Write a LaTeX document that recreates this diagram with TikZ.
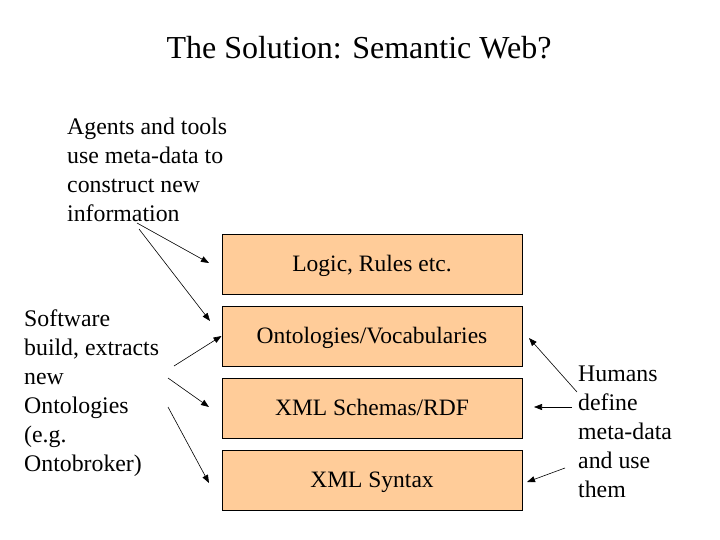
\documentclass[tikz,border=0pt]{standalone}
\usepackage{fontspec}
\setmainfont{Liberation Serif}
\usetikzlibrary{arrows.meta}
\definecolor{boxfill}{HTML}{FFCC99}
\tikzset{
  layer/.style={draw=black, line width=1pt, fill=boxfill, minimum width=300pt, minimum height=60pt, inner sep=0pt, text depth=1pt, font=\fontsize{23.5}{28}\selectfont},
  note/.style={anchor=base west, inner sep=0pt, align=left, font=\fontsize{23.8}{29}\selectfont},
  arr/.style={-{Triangle[length=8pt,width=6pt]}, line width=0.6pt}
}
\begin{document}
\begin{tikzpicture}[x=1pt,y=-1pt]
\useasboundingbox (0,0) rectangle (720,540);
\node[anchor=base, inner sep=0pt, font=\fontsize{32}{38}\selectfont] (title) at (359,59) {The Solution: Semantic Web?};
\node[layer] (logic) at (372,264) {Logic, Rules etc.};
\node[layer] (onto) at (372,336) {Ontologies/Vocabularies};
\node[layer] (xmls) at (372,408) {XML Schemas/RDF};
\node[layer] (syn) at (372,480) {XML Syntax};
\node[note] (agents) at (67,222) {Agents and tools\\use meta-data to\\construct new\\information};
\node[note] (soft) at (24,471) {Software\\build, extracts\\new\\Ontologies\\(e.g.\\Ontobroker)};
\node[note] (hum) at (578,497) {Humans\\define\\meta-data\\and use\\them};
\coordinate (a1) at (137,223);
\coordinate (a2) at (139,229);
\coordinate (s1) at (174,366);
\coordinate (s2) at (168,378);
\coordinate (s3) at (168,407);
\coordinate (h1) at (577,392);
\coordinate (h2) at (572,407);
\coordinate (h3) at (565,468);
\draw[arr] (a1) -- (209,263);
\draw[arr] (a2) -- (210,321);
\draw[arr] (s1) -- (onto.west);
\draw[arr] (s2) -- (209,407);
\draw[arr] (s3) -- (209,483);
\draw[arr] (h1) -- (529,338);
\draw[arr] (h2) -- (534,407);
\draw[arr] (h3) -- (527,482);
\end{tikzpicture}
\end{document}
